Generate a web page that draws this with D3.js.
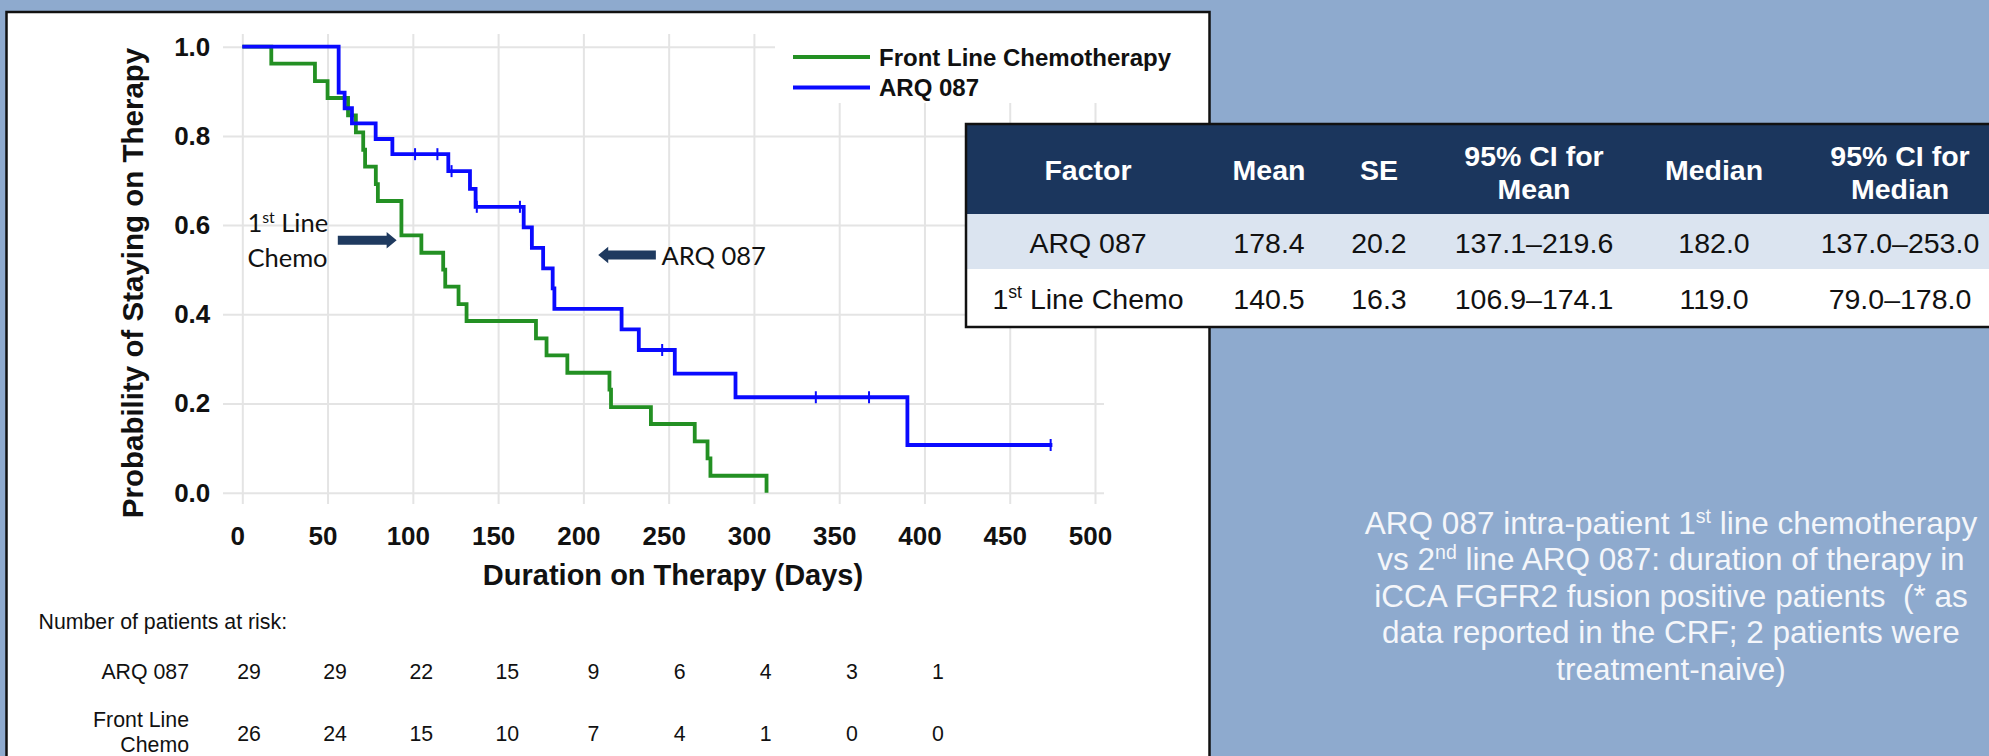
<!DOCTYPE html>
<html>
<head>
<meta charset="utf-8">
<script src="https://cdn.jsdelivr.net/npm/d3@7"></script>
<style>
  html, body { margin: 0; padding: 0; background: #8eaace; }
  svg { display: block; font-family: Arial, "Liberation Sans", sans-serif; }
</style>
</head>
<body>
<svg id="chart" width="1989" height="756"></svg>
<script>
// ---- data ----
const xTicks = [0, 50, 100, 150, 200, 250, 300, 350, 400, 450, 500];
const yTicks = [0, 0.2, 0.4, 0.6, 0.8, 1.0];

// ARQ 087 (2nd line) – step points of the KM curve
const arqDays = [0, 56.5, 60, 64.3, 78.2, 88, 120.8, 133.5, 136.8, 165, 169.8, 176.4, 182, 183, 222.4, 232.5, 253.6, 289.2, 390, 475];
const arqSurv = [1, 0.897, 0.862, 0.828, 0.793, 0.759, 0.721, 0.681, 0.641, 0.595, 0.549, 0.503, 0.458, 0.412, 0.366, 0.320, 0.267, 0.214, 0.107, 0.107];
const arqCensorDays = [101.3, 114.4, 122.7, 137.5, 162.8, 246.2, 336.3, 367.5, 474];
const arqCensorSurv = [0.759, 0.759, 0.721, 0.641, 0.641, 0.320, 0.214, 0.214, 0.107];

// Front line chemotherapy – step points
const chemoDays = [0, 17, 42.6, 50, 62, 66.6, 70.9, 72, 78.3, 79.5, 93.3, 105, 117.8, 119, 126.8, 131.5, 172.2, 178.4, 190.6, 215.3, 216.2, 239.6, 265.3, 272.8, 274.5, 307.4];
const chemoSurv = [1, 0.962, 0.923, 0.885, 0.846, 0.808, 0.769, 0.731, 0.692, 0.654, 0.577, 0.538, 0.500, 0.462, 0.423, 0.385, 0.346, 0.308, 0.269, 0.231, 0.192, 0.154, 0.115, 0.077, 0.038, 0.0];

// numbers at risk
const riskTimes = [0, 50, 100, 150, 200, 250, 300, 350, 400];
const riskArq   = [29, 29, 22, 15, 9, 6, 4, 3, 1];
const riskChemo = [26, 24, 15, 10, 7, 4, 1, 0, 0];

// summary table ("^" marks superscript, "|" a line break)
const tableColumns = ["Factor", "Mean", "SE", "95% CI for|Mean", "Median", "95% CI for|Median"];
const tableArq     = ["ARQ 087", "178.4", "20.2", "137.1–219.6", "182.0", "137.0–253.0"];
const tableChemo   = ["1^st^ Line Chemo", "140.5", "16.3", "106.9–174.1", "119.0", "79.0–178.0"];

const noteLines = [
  "ARQ 087 intra-patient 1^st^ line chemotherapy",
  "vs 2^nd^ line ARQ 087: duration of therapy in",
  "iCCA FGFR2 fusion positive patients  (* as",
  "data reported in the CRF; 2 patients were",
  "treatment-naive)"
];

// ---- drawing ----
const svg = d3.select("#chart");
const blue = "#0a0aff", green = "#239023", navy = "#1f3a5f";

const x = d3.scaleLinear().domain([0, 500]).range([242.3, 1095]);
const y = d3.scaleLinear().domain([0, 1]).range([492.7, 46.7]);

// writes text with ^superscript^ parts into a <text>
const rich = (text, str, size) => {
  str.split("^").forEach((part, i) => {
    if (!part) return;
    const t = text.append("tspan").text(part);
    if (i % 2) t.attr("font-size", size * 0.62).attr("dy", -size * 0.36);
    else if (i > 0) t.attr("dy", size * 0.36);
  });
  return text;
};

// white panel
svg.append("rect")
  .attr("x", 6.5).attr("y", 12).attr("width", 1203).attr("height", 800)
  .attr("fill", "#fff").attr("stroke", "#111").attr("stroke-width", 2.5);

// grid
svg.append("g")
  .attr("transform", `translate(0,504)`)
  .call(d3.axisBottom(x).tickValues(xTicks).tickSize(-470).tickFormat(""))
  .call(g => g.select(".domain").remove())
  .call(g => g.selectAll("line").attr("stroke", "#e4e4e4").attr("stroke-width", 2));

svg.append("g")
  .attr("transform", `translate(223,0)`)
  .call(d3.axisLeft(y).tickValues(yTicks).tickSize(-881).tickFormat(""))
  .call(g => g.select(".domain").remove())
  .call(g => g.selectAll("line").attr("stroke", "#e4e4e4").attr("stroke-width", 2));

// legend (its white box hides the grid behind it)
svg.append("rect").attr("x", 775).attr("y", 24).attr("width", 340).attr("height", 79).attr("fill", "#fff");
const legend = [["Front Line Chemotherapy", green, 57], ["ARQ 087", blue, 87.5]];
legend.forEach(([label, color, ly]) => {
  svg.append("line").attr("x1", 793).attr("x2", 870).attr("y1", ly).attr("y2", ly)
    .attr("stroke", color).attr("stroke-width", 4);
  svg.append("text").attr("x", 879).attr("y", ly + 8.5)
    .attr("font-size", 24).attr("font-weight", "bold").attr("fill", "#111").text(label);
});

// axis labels
svg.append("g")
  .attr("transform", `translate(0,${y(0)})`)
  .call(d3.axisBottom(x).tickValues(xTicks).tickSize(0).tickPadding(34))
  .call(g => g.select(".domain").remove())
  .call(g => g.selectAll("text").attr("x", -5).attr("font-size", 26).attr("font-weight", "bold")
    .attr("font-family", "Arial, 'Liberation Sans', sans-serif").attr("fill", "#111"));

svg.append("g")
  .attr("transform", `translate(${x(0)},0)`)
  .call(d3.axisLeft(y).tickValues(yTicks).tickSize(0).tickPadding(32).tickFormat(d3.format(".1f")))
  .call(g => g.select(".domain").remove())
  .call(g => g.selectAll("text").attr("font-size", 26).attr("font-weight", "bold")
    .attr("font-family", "Arial, 'Liberation Sans', sans-serif").attr("fill", "#111"));

svg.append("text")
  .attr("transform", "translate(143,283) rotate(-90)")
  .attr("text-anchor", "middle")
  .attr("font-size", 29.5).attr("font-weight", "bold").attr("fill", "#111")
  .text("Probability of Staying on Therapy");

svg.append("text")
  .attr("x", 673).attr("y", 585)
  .attr("text-anchor", "middle")
  .attr("font-size", 29).attr("font-weight", "bold").attr("fill", "#111")
  .text("Duration on Therapy (Days)");

// KM curves
const step = d3.line().x(d => x(d[0])).y(d => y(d[1])).curve(d3.curveStepAfter);
const curves = [[chemoDays, chemoSurv, green], [arqDays, arqSurv, blue]];
curves.forEach(([days, surv, color]) => {
  svg.append("path")
    .datum(d3.zip(days, surv))
    .attr("d", step)
    .attr("fill", "none")
    .attr("stroke", color)
    .attr("stroke-width", 3.8);
});

svg.append("g").selectAll("line")
  .data(d3.zip(arqCensorDays, arqCensorSurv))
  .join("line")
  .attr("x1", d => x(d[0])).attr("x2", d => x(d[0]))
  .attr("y1", d => y(d[1]) - 6).attr("y2", d => y(d[1]) + 6)
  .attr("stroke", blue).attr("stroke-width", 2);

// annotations (positions in data units)
const annoFont = "Lato, 'Open Sans', sans-serif";
rich(svg.append("text").attr("x", x(3)).attr("y", y(0.585))
  .attr("font-family", annoFont).attr("font-size", 25.5).attr("fill", "#111"), "1^st^ Line", 25.5);
svg.append("text").attr("x", x(3)).attr("y", y(0.505))
  .attr("font-family", annoFont).attr("font-size", 25.5).attr("fill", "#111").text("Chemo");
svg.append("text").attr("x", x(245.8)).attr("y", y(0.5105))
  .attr("font-family", annoFont).attr("font-size", 25.5).attr("fill", "#111").text("ARQ 087");

const arrow = (x0, x1, yy) => {
  const dir = Math.sign(x1 - x0), head = 10, shaft = 4.5, half = 8.3;
  const xb = x1 - dir * head;
  return `M${x0},${yy - shaft}L${xb},${yy - shaft}L${xb},${yy - half}L${x1},${yy}` +
         `L${xb},${yy + half}L${xb},${yy + shaft}L${x0},${yy + shaft}Z`;
};
svg.append("path").attr("d", arrow(x(56), x(90.5), y(0.566))).attr("fill", navy);
svg.append("path").attr("d", arrow(x(242.5), x(208.7), y(0.533))).attr("fill", navy);

// numbers at risk
const risk = d3.scaleLinear().domain([0, 400]).range([249, 938]);
const riskFont = 21.3;
svg.append("text").attr("x", 38.5).attr("y", 628.5)
  .attr("font-size", riskFont).attr("fill", "#111").text("Number of patients at risk:");
svg.append("text").attr("x", 189).attr("y", 678.5).attr("text-anchor", "end")
  .attr("font-size", riskFont).attr("fill", "#111").text("ARQ 087");
svg.append("text").attr("x", 189).attr("y", 726.5).attr("text-anchor", "end")
  .attr("font-size", riskFont).attr("fill", "#111").text("Front Line");
svg.append("text").attr("x", 189).attr("y", 751.5).attr("text-anchor", "end")
  .attr("font-size", riskFont).attr("fill", "#111").text("Chemo");
[[riskArq, 678.5], [riskChemo, 740.5]].forEach(([vals, ry]) => {
  svg.append("g").selectAll("text")
    .data(d3.zip(riskTimes, vals))
    .join("text")
    .attr("x", d => risk(d[0])).attr("y", ry)
    .attr("text-anchor", "middle")
    .attr("font-size", riskFont).attr("fill", "#111")
    .text(d => d[1]);
});

// summary table
const colX = [1088, 1269, 1379, 1534, 1714, 1900];
const tbl = svg.append("g");
tbl.append("rect").attr("x", 966).attr("y", 124).attr("width", 1040).attr("height", 90).attr("fill", "#1b365d");
tbl.append("rect").attr("x", 966).attr("y", 214).attr("width", 1040).attr("height", 55).attr("fill", "#dbe4f0");
tbl.append("rect").attr("x", 966).attr("y", 269).attr("width", 1040).attr("height", 58).attr("fill", "#fff");
tbl.append("rect").attr("x", 966).attr("y", 124).attr("width", 1040).attr("height", 203)
  .attr("fill", "none").attr("stroke", "#111").attr("stroke-width", 2.5);

tableColumns.forEach((c, i) => {
  const lines = c.split("|");
  const t = tbl.append("text").attr("text-anchor", "middle")
    .attr("font-size", 28.5).attr("font-weight", "bold").attr("fill", "#fff");
  if (lines.length === 1) t.attr("x", colX[i]).attr("y", 179.5).text(c);
  else lines.forEach((l, k) => t.append("tspan").attr("x", colX[i]).attr("y", 165.5 + k * 33).text(l));
});
[[tableArq, 253], [tableChemo, 308.5]].forEach(([row, ry]) => {
  row.forEach((v, i) => {
    rich(tbl.append("text").attr("x", colX[i]).attr("y", ry).attr("text-anchor", "middle")
      .attr("font-size", 28.5).attr("fill", "#111"), v, 28.5);
  });
});

// note text on the right
noteLines.forEach((l, k) => {
  const t = svg.append("text").attr("x", 1671).attr("y", 534 + k * 36.4)
    .attr("text-anchor", "middle").attr("font-size", 31.5).attr("fill", "#f4f6fa")
    .style("white-space", "pre");
  rich(t, l, 31.5);
});
</script>
</body>
</html>
